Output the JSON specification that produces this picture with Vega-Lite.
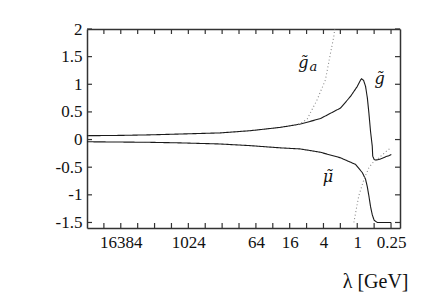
{
  "$schema": "https://vega.github.io/schema/vega-lite/v6.json",
  "width": 313,
  "height": 199,
  "autosize": "none",
  "padding": {"left": 87, "top": 29, "right": 39, "bottom": 75},
  "background": "white",
  "config": {"view": {"stroke": null}, "font": "Liberation Serif"},
  "datasets": {
    "curves": [
      {"s": "g", "lam": 65536, "v": 0.07},
      {"s": "g", "lam": 17100, "v": 0.075},
      {"s": "g", "lam": 4980, "v": 0.085},
      {"s": "g", "lam": 1450, "v": 0.1},
      {"s": "g", "lam": 278, "v": 0.12},
      {"s": "g", "lam": 81, "v": 0.16},
      {"s": "g", "lam": 23.6, "v": 0.22},
      {"s": "g", "lam": 10.3, "v": 0.28},
      {"s": "g", "lam": 4.53, "v": 0.38},
      {"s": "g", "lam": 1.99, "v": 0.57},
      {"s": "g", "lam": 1.32, "v": 0.78},
      {"s": "g", "lam": 1.0, "v": 0.96},
      {"s": "g", "lam": 0.87, "v": 1.08},
      {"s": "g", "lam": 0.84, "v": 1.1},
      {"s": "g", "lam": 0.77, "v": 1.07},
      {"s": "g", "lam": 0.71, "v": 0.96},
      {"s": "g", "lam": 0.66, "v": 0.75},
      {"s": "g", "lam": 0.62, "v": 0.48},
      {"s": "g", "lam": 0.58, "v": 0.15},
      {"s": "g", "lam": 0.54, "v": -0.12},
      {"s": "g", "lam": 0.53, "v": -0.3},
      {"s": "g", "lam": 0.5, "v": -0.36},
      {"s": "g", "lam": 0.47, "v": -0.37},
      {"s": "g", "lam": 0.41, "v": -0.36},
      {"s": "g", "lam": 0.36, "v": -0.34},
      {"s": "g", "lam": 0.31, "v": -0.31},
      {"s": "g", "lam": 0.27, "v": -0.29},
      {"s": "g", "lam": 0.247, "v": -0.27},
      {"s": "mu", "lam": 65536, "v": -0.04},
      {"s": "mu", "lam": 17100, "v": -0.045},
      {"s": "mu", "lam": 4980, "v": -0.05},
      {"s": "mu", "lam": 1450, "v": -0.06},
      {"s": "mu", "lam": 278, "v": -0.08},
      {"s": "mu", "lam": 81, "v": -0.11},
      {"s": "mu", "lam": 23.6, "v": -0.15},
      {"s": "mu", "lam": 10.3, "v": -0.17},
      {"s": "mu", "lam": 4.53, "v": -0.23},
      {"s": "mu", "lam": 1.99, "v": -0.33},
      {"s": "mu", "lam": 1.07, "v": -0.45},
      {"s": "mu", "lam": 0.81, "v": -0.6},
      {"s": "mu", "lam": 0.71, "v": -0.72},
      {"s": "mu", "lam": 0.66, "v": -0.86},
      {"s": "mu", "lam": 0.62, "v": -1.02},
      {"s": "mu", "lam": 0.58, "v": -1.21},
      {"s": "mu", "lam": 0.54, "v": -1.36},
      {"s": "mu", "lam": 0.5, "v": -1.46},
      {"s": "mu", "lam": 0.44, "v": -1.5},
      {"s": "mu", "lam": 0.247, "v": -1.5},
      {"s": "ga_up", "lam": 13, "v": 0.26},
      {"s": "ga_up", "lam": 10.3, "v": 0.29},
      {"s": "ga_up", "lam": 7.8, "v": 0.37},
      {"s": "ga_up", "lam": 5.2, "v": 0.72},
      {"s": "ga_up", "lam": 3.69, "v": 1.08},
      {"s": "ga_up", "lam": 3.0, "v": 1.56},
      {"s": "ga_up", "lam": 2.62, "v": 1.86},
      {"s": "ga_up", "lam": 2.45, "v": 2.1},
      {"s": "ga_lo", "lam": 1.15, "v": -1.5},
      {"s": "ga_lo", "lam": 0.94, "v": -1.02},
      {"s": "ga_lo", "lam": 0.76, "v": -0.72},
      {"s": "ga_lo", "lam": 0.62, "v": -0.51},
      {"s": "ga_lo", "lam": 0.53, "v": -0.42},
      {"s": "ga_lo", "lam": 0.41, "v": -0.33},
      {"s": "ga_lo", "lam": 0.31, "v": -0.22},
      {"s": "ga_lo", "lam": 0.247, "v": -0.14}
    ],
    "bottomticks": [
      {"lam": 32768, "v": -1.6}, {"lam": 16384, "v": -1.6}, {"lam": 8192, "v": -1.6}, {"lam": 4096, "v": -1.6},
      {"lam": 2048, "v": -1.6}, {"lam": 1024, "v": -1.6}, {"lam": 512, "v": -1.6}, {"lam": 256, "v": -1.6},
      {"lam": 128, "v": -1.6}, {"lam": 64, "v": -1.6}, {"lam": 32, "v": -1.6}, {"lam": 16, "v": -1.6},
      {"lam": 8, "v": -1.6}, {"lam": 4, "v": -1.6}, {"lam": 2, "v": -1.6}, {"lam": 1, "v": -1.6},
      {"lam": 0.5, "v": -1.6}, {"lam": 0.25, "v": -1.6}
    ],
    "topticks": [
      {"lam": 32768, "v": 2}, {"lam": 16384, "v": 2}, {"lam": 8192, "v": 2}, {"lam": 4096, "v": 2},
      {"lam": 2048, "v": 2}, {"lam": 1024, "v": 2}, {"lam": 512, "v": 2}, {"lam": 256, "v": 2},
      {"lam": 128, "v": 2}, {"lam": 64, "v": 2}, {"lam": 32, "v": 2}, {"lam": 16, "v": 2},
      {"lam": 8, "v": 2}, {"lam": 4, "v": 2}, {"lam": 2, "v": 2}, {"lam": 1, "v": 2},
      {"lam": 0.5, "v": 2}, {"lam": 0.25, "v": 2}
    ],
    "leftticks": [
      {"lam": 65536, "v": -1.5}, {"lam": 65536, "v": -1}, {"lam": 65536, "v": -0.5}, {"lam": 65536, "v": 0},
      {"lam": 65536, "v": 0.5}, {"lam": 65536, "v": 1}, {"lam": 65536, "v": 1.5}, {"lam": 65536, "v": 2}
    ],
    "rightticks": [
      {"lam": 0.173, "v": -1.5}, {"lam": 0.173, "v": -1}, {"lam": 0.173, "v": -0.5}, {"lam": 0.173, "v": 0},
      {"lam": 0.173, "v": 0.5}, {"lam": 0.173, "v": 1}, {"lam": 0.173, "v": 1.5}, {"lam": 0.173, "v": 2}
    ],
    "labels": [
      {"t": "g̃", "lam": 9.1, "v": 1.3},
      {"t": "g̃", "lam": 0.4, "v": 1.01},
      {"t": "μ̃", "lam": 3.33, "v": -0.76}
    ],
    "subs": [
      {"t": "a", "lam": 6.05, "v": 1.24}
    ]
  },
  "layer": [
    {
      "data": {"name": "curves"},
      "mark": {"type": "line", "clip": true, "strokeWidth": 1.1},
      "encoding": {
        "x": {
          "field": "lam", "type": "quantitative",
          "scale": {"type": "log", "base": 2, "domain": [0.173, 65536], "reverse": true, "nice": false, "zero": false},
          "axis": {
            "orient": "bottom",
            "values": [16384, 1024, 64, 16, 4, 1, 0.25],
            "labelExpr": "datum.value == 0.25 ? '0.25' : format(datum.value, 'd')",
            "ticks": false,
            "domainColor": "#333", "domainWidth": 1.5,
            "grid": false, "labelFont": "Liberation Serif", "labelFontSize": 17, "labelColor": "#111",
            "labelPadding": 6, "labelFlush": false, "labelOverlap": false,
            "title": "λ [GeV]", "titleFont": "Liberation Serif", "titleFontSize": 20, "titleFontWeight": "normal", "titleColor": "#111",
            "titleAnchor": "end", "titleAlign": "right", "titleBaseline": "alphabetic",
            "titleX": 321, "titleY": 59
          }
        },
        "y": {
          "field": "v", "type": "quantitative",
          "scale": {"domain": [-1.6, 2], "nice": false, "zero": false},
          "axis": {
            "orient": "left",
            "values": [-1.5, -1, -0.5, 0, 0.5, 1, 1.5, 2],
            "labelExpr": "replace(format(datum.value, '~g'), '−', '-')",
            "ticks": false,
            "domainColor": "#333", "domainWidth": 1.5,
            "grid": false, "labelFont": "Liberation Serif", "labelFontSize": 17, "labelColor": "#111",
            "labelPadding": 5, "labelFlush": false, "labelOverlap": false,
            "title": null
          }
        },
        "color": {
          "field": "s", "type": "nominal",
          "scale": {"domain": ["g", "mu", "ga_up", "ga_lo"], "range": ["#1a1a1a", "#1a1a1a", "#8a8a8a", "#8a8a8a"]},
          "legend": null
        },
        "strokeDash": {
          "field": "s", "type": "nominal",
          "scale": {"domain": ["g", "mu", "ga_up", "ga_lo"], "range": [[1, 0], [1, 0], [1, 2.5], [1, 2.5]]},
          "legend": null
        }
      }
    },
    {
      "data": {"name": "curves"},
      "mark": {"type": "point", "opacity": 0},
      "encoding": {
        "x": {
          "field": "lam", "type": "quantitative",
          "axis": {
            "orient": "top", "labels": false, "ticks": false,
            "domainColor": "#333", "domainWidth": 1.5, "grid": false, "title": null
          }
        },
        "y": {
          "field": "v", "type": "quantitative",
          "axis": {
            "orient": "right", "labels": false, "ticks": false,
            "domainColor": "#333", "domainWidth": 1.5, "grid": false, "title": null
          }
        }
      }
    },
    {
      "data": {"name": "bottomticks"},
      "mark": {"type": "tick", "orient": "vertical", "color": "#333", "thickness": 1.2, "size": 5, "opacity": 1, "yOffset": -2.5},
      "encoding": {
        "x": {"field": "lam", "type": "quantitative", "axis": null},
        "y": {"field": "v", "type": "quantitative", "axis": null}
      }
    },
    {
      "data": {"name": "topticks"},
      "mark": {"type": "tick", "orient": "vertical", "color": "#333", "thickness": 1.2, "size": 5, "opacity": 1, "yOffset": 2.5},
      "encoding": {
        "x": {"field": "lam", "type": "quantitative", "axis": null},
        "y": {"field": "v", "type": "quantitative", "axis": null}
      }
    },
    {
      "data": {"name": "leftticks"},
      "mark": {"type": "tick", "orient": "horizontal", "color": "#333", "thickness": 1.2, "size": 5, "opacity": 1, "xOffset": 2.5},
      "encoding": {
        "x": {"field": "lam", "type": "quantitative", "axis": null},
        "y": {"field": "v", "type": "quantitative", "axis": null}
      }
    },
    {
      "data": {"name": "rightticks"},
      "mark": {"type": "tick", "orient": "horizontal", "color": "#333", "thickness": 1.2, "size": 5, "opacity": 1, "xOffset": -2.5},
      "encoding": {
        "x": {"field": "lam", "type": "quantitative", "axis": null},
        "y": {"field": "v", "type": "quantitative", "axis": null}
      }
    },
    {
      "mark": {"type": "rule", "color": "#a3b8b0", "strokeWidth": 1},
      "encoding": {"y": {"datum": 0, "type": "quantitative", "axis": null}}
    },
    {
      "data": {"name": "labels"},
      "mark": {"type": "text", "fontSize": 16, "fontStyle": "italic", "font": "DejaVu Serif", "align": "center", "baseline": "alphabetic", "color": "#111"},
      "encoding": {
        "x": {"field": "lam", "type": "quantitative", "axis": null},
        "y": {"field": "v", "type": "quantitative", "axis": null},
        "text": {"field": "t"}
      }
    },
    {
      "data": {"name": "subs"},
      "mark": {"type": "text", "fontSize": 13, "fontStyle": "italic", "font": "DejaVu Serif", "align": "center", "baseline": "alphabetic", "color": "#111"},
      "encoding": {
        "x": {"field": "lam", "type": "quantitative", "axis": null},
        "y": {"field": "v", "type": "quantitative", "axis": null},
        "text": {"field": "t"}
      }
    }
  ],
  "resolve": {"axis": {"x": "independent", "y": "independent"}}
}
